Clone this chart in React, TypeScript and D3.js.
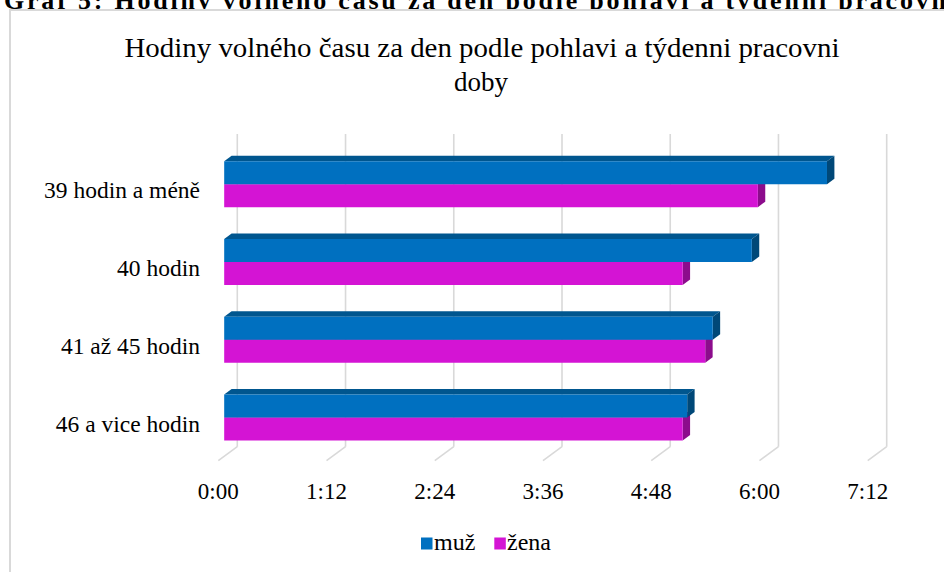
import React from 'react';
import * as d3 from 'd3';

// chart data (h:mm)
const categories = ['39 hodin a méně', '40 hodin', '41 až 45 hodin', '46 a vice hodin'];
const seriesNames = ['muž', 'žena'];
const muzValues = ['6:41', '5:51', '5:25', '5:08'];
const zenaValues = ['5:55', '5:05', '5:20', '5:05'];
const tickLabels = ['0:00', '1:12', '2:24', '3:36', '4:48', '6:00', '7:12'];

const toHours = (s: string) => {
  const [h, m] = s.split(':').map(Number);
  return h + m / 60;
};

const W = 944;
const H = 572;
const FONT = '"Liberation Serif", "Times New Roman", serif';

// 3D depth vector of the floor
const DX = 19;
const DY = -14;
const Z1 = 0.31; // bar front
const Z2 = 0.7;  // bar back

const colors = {
  muz: { front: '#0070C0', top: '#00568F', side: '#004878' },
  zena: { front: '#D414D4', top: '#A010A0', side: '#8C0C8C' },
};

const App = () => {
  const x = d3.scaleLinear().domain([0, 7.2]).range([218.3, 867.7]);
  const y = d3.scaleBand<string>()
    .domain(categories)
    .range([149.6, 460.7])
    .paddingInner(0.409)
    .paddingOuter(0.2045);
  const inner = d3.scaleBand<string>().domain(seriesNames).range([0, y.bandwidth()]);

  const backTop = 134;
  const floorFront = 460.7;
  const floorBack = floorFront + DY;

  const proj = (px: number, py: number, z: number): [number, number] => [px + DX * z, py + DY * z];
  const pts = (arr: [number, number][]) => arr.map(p => p.join(',')).join(' ');

  const bar = (v: number, y0: number, y1: number, c: { front: string; top: string; side: string }, key: string) => {
    const x0 = x(0);
    const xv = x(v);
    const front = [proj(x0, y0, Z1), proj(xv, y0, Z1), proj(xv, y1, Z1), proj(x0, y1, Z1)];
    const top = [proj(x0, y0, Z1), proj(xv, y0, Z1), proj(xv, y0, Z2), proj(x0, y0, Z2)];
    const side = [proj(xv, y0, Z1), proj(xv, y0, Z2), proj(xv, y1, Z2), proj(xv, y1, Z1)];
    return (
      <g key={key}>
        <polygon points={pts(top)} fill={c.top} />
        <polygon points={pts(side)} fill={c.side} />
        <polygon points={pts(front)} fill={c.front} />
      </g>
    );
  };

  const ticks = d3.range(tickLabels.length).map(i => i * 1.2);

  return (
    <div style={{ position: 'absolute', left: 0, top: 0, width: W, height: H, overflow: 'hidden', background: '#fff' }}>
      <svg width={W} height={H} style={{ display: 'block' }} fontFamily={FONT}>
        <rect x={0} y={0} width={W} height={H} fill="#fff" />

        {/* page caption, cut at the top */}
        <text x={4} y={8.5} fontSize={26} fontWeight="bold" fill="#000"
          textLength={952} lengthAdjust="spacing">
          Graf 5: Hodiny volného času za den podle pohlaví a týdenní pracovní
        </text>

        {/* chart frame */}
        <rect x={10} y={10} width={W} height={H} fill="#fff" stroke="#D9D9D9" strokeWidth={2} />

        {/* title */}
        <text x={482} y={57} fontSize={27} textAnchor="middle" fill="#000"
          textLength={715} lengthAdjust="spacingAndGlyphs">
          Hodiny volného  času za den podle pohlavi  a týdenni pracovni
        </text>
        <text x={481} y={91} fontSize={27} textAnchor="middle" fill="#000">doby</text>

        {/* back wall and floor gridlines */}
        {ticks.map((t, i) => (
          <g key={i} stroke="#D9D9D9" strokeWidth={1.6} fill="none">
            <line x1={x(t) + DX} x2={x(t) + DX} y1={backTop} y2={floorBack} />
            <line x1={x(t) + DX} x2={x(t)} y1={floorBack} y2={floorFront} />
          </g>
        ))}

        {/* bars */}
        {categories.map((c, i) => {
          const b = y(c)!;
          const ym0 = b + inner('muž')!;
          const yz0 = b + inner('žena')!;
          const bw = inner.bandwidth();
          return (
            <g key={c}>
              {bar(toHours(zenaValues[i]), yz0, yz0 + bw, colors.zena, 'z')}
              {bar(toHours(muzValues[i]), ym0, ym0 + bw, colors.muz, 'm')}
            </g>
          );
        })}

        {/* category labels */}
        {categories.map(c => (
          <text key={c} x={200} y={y(c)! + y.bandwidth() / 2 + 10} fontSize={23.5} textAnchor="end" fill="#000">
            {c}
          </text>
        ))}

        {/* x axis labels */}
        {ticks.map((t, i) => (
          <text key={i} x={x(t)} y={499} fontSize={23} textAnchor="middle" fill="#000">
            {tickLabels[i]}
          </text>
        ))}

        {/* legend */}
        <rect x={421} y={537.5} width={11.5} height={12} fill={colors.muz.front} />
        <text x={434} y={550} fontSize={24} fill="#000">{seriesNames[0]}</text>
        <rect x={494.3} y={537.5} width={11.5} height={12} fill={colors.zena.front} />
        <text x={507} y={550} fontSize={24} fill="#000">{seriesNames[1]}</text>
      </svg>
    </div>
  );
};

export default App;
